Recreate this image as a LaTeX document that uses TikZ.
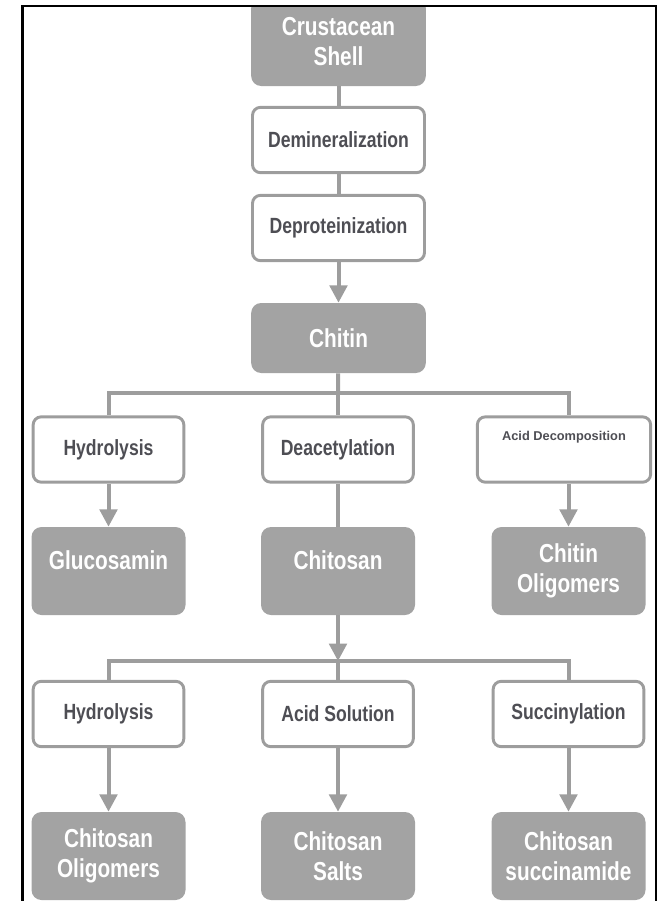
\documentclass[tikz,border=0pt]{standalone}
\usepackage{fontspec}
\setmainfont{Liberation Sans}[FakeStretch=0.8]
\newfontfamily\plainsans{Liberation Sans}
\usetikzlibrary{arrows.meta}
\definecolor{boxgrey}{RGB}{163,163,163}
\definecolor{linegrey}{RGB}{157,157,157}
\definecolor{textgrey}{RGB}{78,78,84}

\begin{document}
\begin{tikzpicture}[x=0.75pt, y=-0.75pt,
    product/.style={rectangle, rounded corners=7.5pt, fill=boxgrey, text=white, align=center,
        font=\bfseries\fontsize{19.5}{22.5}\selectfont, inner sep=0pt,
        minimum width=115.5pt, minimum height=66pt},
    process/.style={rectangle, rounded corners=6pt, draw=linegrey, line width=2.2pt, fill=white,
        text=textgrey, align=center, font=\bfseries\fontsize{16.5}{19}\selectfont, inner sep=0pt,
        minimum width=113pt, minimum height=49pt},
    link/.style={draw=linegrey, line width=3pt},
    arrow/.style={link, -{Triangle[width=13pt,length=13pt]}}]

    \useasboundingbox (0,0) rectangle (660,901);
    \clip (0,0) rectangle (660,901);

    \begin{scope}
    \clip (23,7) rectangle (655,901);

    % main line
    \node[product, minimum width=131pt] (shell) at (338.5,42) {Crustacean\\Shell};
    \node[process, minimum width=129pt] (demin) at (338.5,140) {Demineralization};
    \node[process, minimum width=129pt] (deprot) at (338.5,228) {Deproteinization};
    \node[product, minimum width=131pt, minimum height=52.5pt] (chitin) at (338.5,338) {Chitin};

    % chitin branches
    \node[process] (hydro1) at (108.5,449.5) {Hydrolysis};
    \node[process] (deacet) at (338,449.5) {Deacetylation};
    \node[process, minimum width=130pt, font=\plainsans\bfseries\fontsize{9.6}{12}\selectfont, text depth=21pt] (aciddec) at (564,449.5) {Acid Decomposition};
    \node[product, text depth=16.5pt] (glucos) at (108.5,571) {Glucosamin};
    \node[product, text depth=16.5pt] (chitosan) at (338,571) {Chitosan};
    \node[product] (chitinolig) at (568.5,571) {Chitin\\Oligomers};

    % chitosan branches
    \node[process] (hydro2) at (108.5,714) {Hydrolysis};
    \node[process] (acidsol) at (338,714) {Acid Solution};
    \node[process] (succin) at (568.5,714) {Succinylation};
    \node[product] (cosolig) at (108.5,856) {Chitosan\\Oligomers};
    \node[product] (cossalts) at (338,856) {Chitosan\\Salts};
    \node[product] (cossucc) at (568.5,856) {Chitosan\\succinamide};

    \coordinate (fork1) at (338,393);
    \coordinate (fork2) at (338,661);

    \draw[link] (shell) -- (demin);
    \draw[link] (demin) -- (deprot);
    \draw[arrow] (deprot) -- (chitin);
    \draw[link] (chitin) -- (fork1);
    \draw[link] (hydro1.north) |- (fork1) -| (chitinolig |- aciddec.north);
    \draw[link] (fork1) -- (deacet);
    \draw[arrow] (hydro1) -- (glucos);
    \draw[link] (deacet) -- (chitosan);
    \draw[arrow] (chitinolig |- aciddec.south) -- (chitinolig);

    \draw[arrow] (chitosan) -- (fork2);
    \draw[link] (hydro2.north) |- (fork2) -| (succin.north);
    \draw[link] (fork2) -- (acidsol);
    \draw[arrow] (hydro2) -- (cosolig);
    \draw[arrow] (acidsol) -- (cossalts);
    \draw[arrow] (succin) -- (cossucc);
    \end{scope}

    % frame
    \draw[line width=1.6pt] (22.5,910) -- (22.5,6) -- (656,6) -- (656,910);

\end{tikzpicture}
\end{document}
